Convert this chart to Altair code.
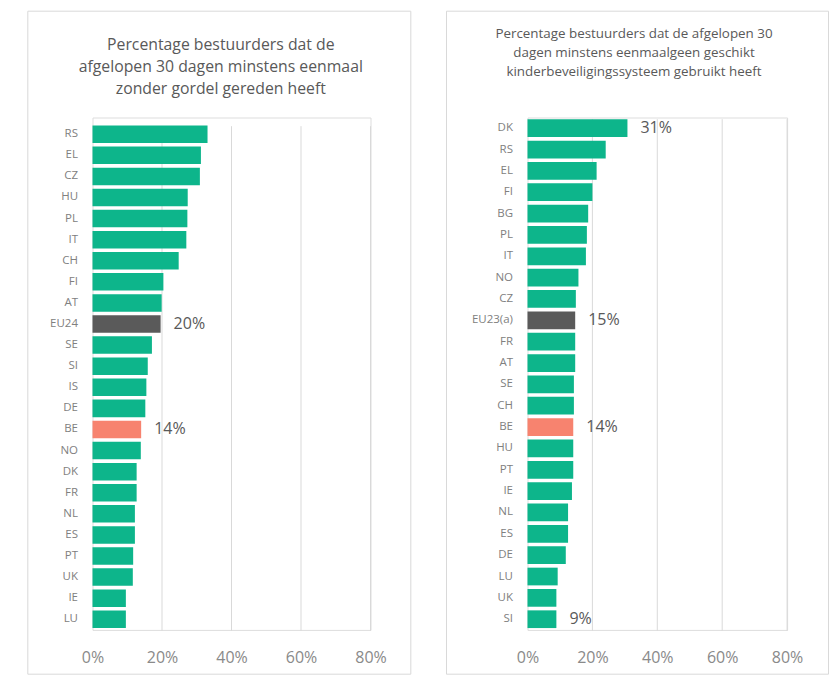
import altair as alt
import pandas as pd

# ---------------- data ----------------
left_countries = ["RS", "EL", "CZ", "HU", "PL", "IT", "CH", "FI", "AT", "EU24", "SE", "SI",
                  "IS", "DE", "BE", "NO", "DK", "FR", "NL", "ES", "PT", "UK", "IE", "LU"]
left_values = [33.1, 31.2, 30.9, 27.4, 27.3, 27.0, 24.8, 20.4, 19.9, 19.6, 17.1, 15.9,
               15.5, 15.2, 14.0, 13.9, 12.7, 12.7, 12.2, 12.2, 11.7, 11.6, 9.6, 9.6]
left_labels = {"EU24": "20%", "BE": "14%"}
left_title = ["Percentage bestuurders dat de",
              "afgelopen 30 dagen minstens eenmaal",
              "zonder gordel gereden heeft"]

right_countries = ["DK", "RS", "EL", "FI", "BG", "PL", "IT", "NO", "CZ", "EU23(a)", "FR", "AT",
                   "SE", "CH", "BE", "HU", "PT", "IE", "NL", "ES", "DE", "LU", "UK", "SI"]
right_values = [30.8, 24.1, 21.3, 20.0, 18.7, 18.3, 18.0, 15.7, 14.9, 14.7, 14.7, 14.7,
                14.3, 14.3, 14.1, 14.1, 14.1, 13.7, 12.5, 12.5, 11.8, 9.3, 8.9, 8.9]
right_labels = {"DK": "31%", "EU23(a)": "15%", "BE": "14%", "SI": "9%"}
right_title = ["Percentage bestuurders dat de afgelopen 30",
               "dagen minstens eenmaalgeen geschikt",
               "kinderbeveiligingssysteem gebruikt heeft"]

tick_values = [0, 20, 40, 60, 80]

GREEN = "#0DB58B"
GREY = "#5A5A5A"
SALMON = "#F7836F"
FONT = "Open Sans"


def kind_of(c):
    if c.startswith("EU"):
        return "eu"
    if c == "BE":
        return "be"
    return "land"


def panel(countries, values, labels, title_lines, title_size, title_lh,
          W, H, tx, ty, box, y_scale, grid_top):
    df = pd.DataFrame({
        "land": countries,
        "waarde": values,
        "label": [labels.get(c, "") for c in countries],
        "soort": [kind_of(c) for c in countries],
    })
    base = alt.Chart(df)
    y = alt.Y("land:N", sort=countries, scale=y_scale,
              axis=alt.Axis(title=None, ticks=False, domain=False, labelPadding=15,
                            labelFontSize=11.5, labelColor="#808080", labelFont=FONT))
    x_scale = alt.Scale(domain=[0, 80], nice=False)
    x_axis = alt.Axis(values=tick_values, labelExpr="datum.value + '%'",
                      title=None, ticks=False, domain=False, grid=False,
                      labelFlush=False, labelOverlap=False,
                      labelPadding=20, labelFontSize=16, labelColor="#8a8a8a",
                      labelFont=FONT)
    grid = alt.Chart(pd.DataFrame({"waarde": tick_values[1:]})).mark_rule(
        color="#d9d9d9", strokeWidth=1).encode(
        x=alt.X("waarde:Q", scale=x_scale, axis=x_axis),
        y=alt.value(grid_top), y2=alt.value(H + 1))
    bars = base.mark_bar().encode(
        x=alt.X("waarde:Q", scale=x_scale, axis=x_axis), y=y,
        color=alt.Color("soort:N",
                        scale=alt.Scale(domain=["land", "eu", "be"],
                                        range=[GREEN, GREY, SALMON]),
                        legend=None),
    )
    text = base.mark_text(align="left", baseline="middle", dx=13, fontSize=16,
                          color="#595959", font=FONT).encode(
        x="waarde:Q", y=alt.Y("land:N", sort=countries), text="label:N")
    x1, x2, y1, y2 = box
    border = alt.Chart(alt.Data(values=[{}])).mark_rect(
        fill="transparent", stroke="#d9d9d9", strokeWidth=1).encode(
        x=alt.value(x1), x2=alt.value(x2), y=alt.value(y1), y2=alt.value(y2))
    title = alt.Chart(alt.Data(values=[{}])).mark_text(
        align="center", baseline="alphabetic", fontSize=title_size,
        lineHeight=title_lh, color="#595959", font=FONT).encode(
        x=alt.value(tx), y=alt.value(ty), text=alt.value(title_lines))
    return alt.layer(border, grid, bars, text, title).properties(width=W, height=H)


H = 512.4
W1 = 278
W2 = 259.6

p1 = panel(left_countries, left_values, left_labels, left_title, 15.8, 22,
           W1, H, 128.3, -67.8, (-64.7, 318.3, -106.3, 556.7),
           alt.Scale(paddingInner=0.17, paddingOuter=0.233, align=0.81), 8.7)
p2 = panel(right_countries, right_values, right_labels, right_title, 13.4, 19,
           W2, H, 106.5, -79.5, (-81, 301, -106.3, 556.7),
           alt.Scale(paddingInner=0.17, paddingOuter=0.085), 1.7)

chart = alt.hconcat(p1, p2, spacing=33).properties(
    padding={"left": 26.5, "top": 9.5, "right": 5, "bottom": 1}
).configure_view(stroke=None).configure(background="white")

chart.save("out.html", embed_options={"renderer": "svg", "actions": False})
